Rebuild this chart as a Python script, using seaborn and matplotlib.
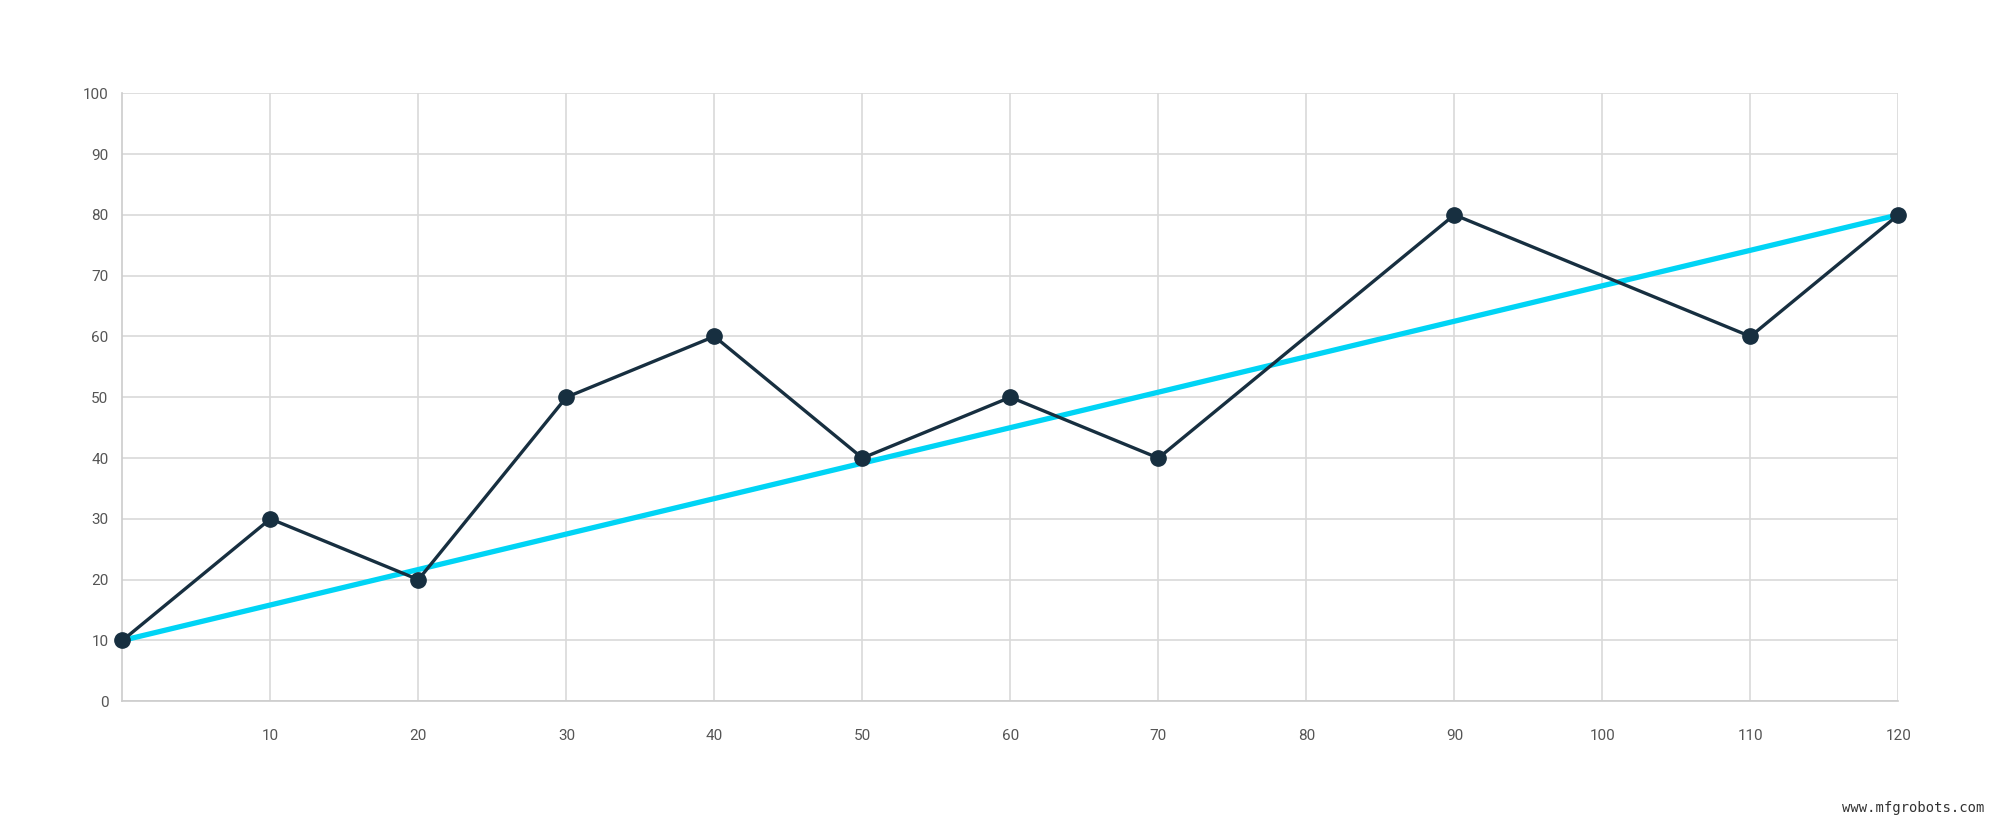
import matplotlib.pyplot as plt
import seaborn as sns
import pandas as pd

x_vals = [0, 10, 20, 30, 40, 50, 60, 70, 90, 110, 120]
y_vals = [10, 30, 20, 50, 60, 40, 50, 40, 80, 60, 80]
trend_x = [0, 120]
trend_y = [10, 80]
x_ticks = list(range(10, 130, 10))
y_ticks = list(range(0, 110, 10))

sns.set_style("white")
plt.rcParams["font.family"] = ["Roboto", "DejaVu Sans"]

fig = plt.figure(figsize=(20, 8.25), dpi=100)
ax = fig.add_axes([0.0612, 0.150, 0.888, 0.737])

df = pd.DataFrame({"x": x_vals, "y": y_vals})
trend = pd.DataFrame({"x": trend_x, "y": trend_y})

ax.set_xlim(0, 120)
ax.set_ylim(0, 100)
ax.set_xticks(x_ticks)
ax.set_yticks(y_ticks)
ax.grid(True, color="#d9d9d9", linewidth=1.2)
ax.set_axisbelow(True)

sns.lineplot(data=trend, x="x", y="y", ax=ax, color="#00d4f5", linewidth=3.8, zorder=3)
sns.lineplot(data=df, x="x", y="y", ax=ax, color="#172f40", linewidth=2.4,
             marker="o", markersize=11, markeredgecolor="#172f40",
             markeredgewidth=1.0, zorder=4, clip_on=False)

for side in ["top", "right"]:
    ax.spines[side].set_visible(False)
for side in ["left", "bottom"]:
    ax.spines[side].set_color("#cccccc")
    ax.spines[side].set_linewidth(1.2)

ax.tick_params(axis="x", length=0, pad=20, labelsize=11, labelcolor="#555555")
ax.tick_params(axis="y", length=0, pad=10, labelsize=11, labelcolor="#555555")
ax.set_xlabel("")
ax.set_ylabel("")

fig.text(0.992, 0.012, "www.mfgrobots.com", ha="right", va="bottom",
         fontsize=10, color="#333333", family=["DejaVu Sans Mono", "DejaVu Sans"])

fig.savefig("out.png", dpi=100, facecolor="white")
